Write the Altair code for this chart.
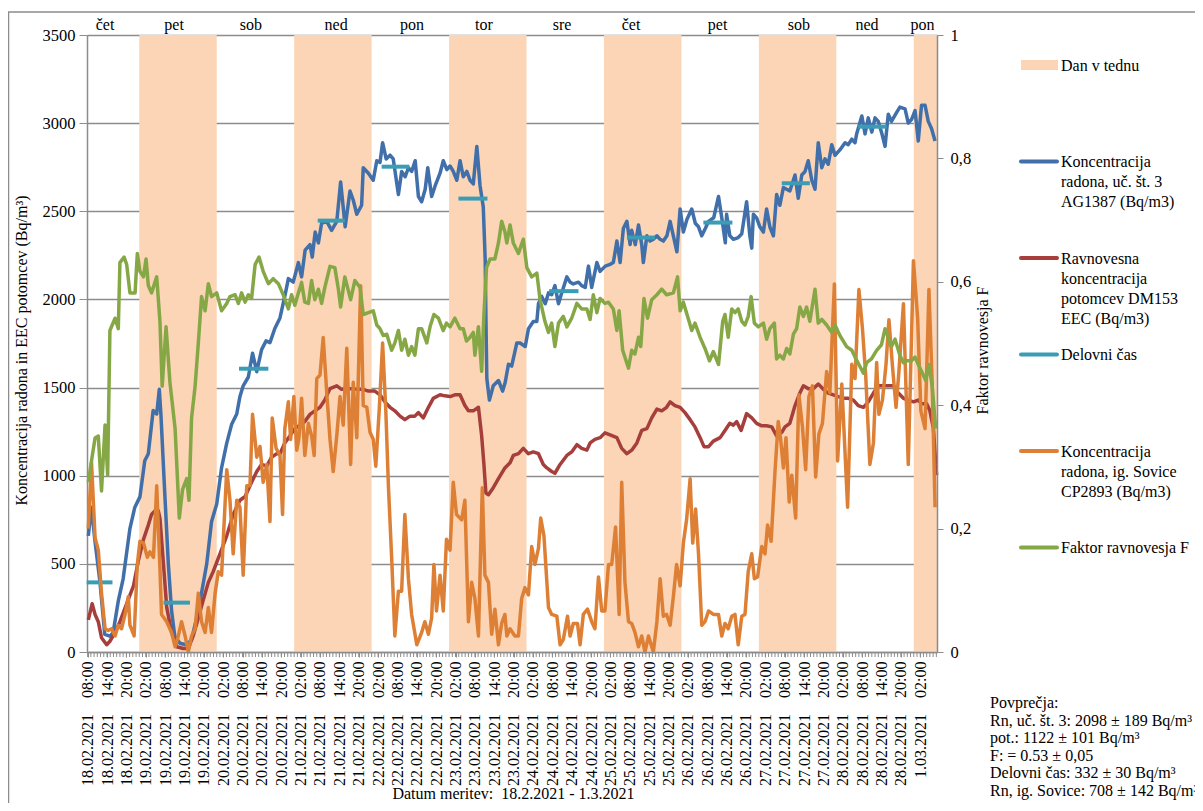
import altair as alt
import pandas as pd

FONT = "Liberation Serif"
BASE = pd.Timestamp("2021-02-18 00:00")


def ts(hours):
    return [(BASE + pd.Timedelta(hours=float(h))).strftime("%Y-%m-%dT%H:%M:%S") for h in hours]


# ---------------- data (hours since 18.02.2021 00:00) ----------------
BLUE_H = [8.2, 9.2, 10.2, 11.8, 13.3, 14.9, 15.9, 17.5, 19.0, 21.1, 22.6, 24.2, 25.7, 26.8, 28.3, 29.4, 30.2, 30.7,
          31.9, 33.0, 34.0, 35.0, 36.6, 38.7, 40.2, 41.8, 43.3, 44.9, 46.4, 48.0, 49.5, 51.1, 52.6, 54.2, 55.2, 56.2,
          57.8, 59.1, 60.4, 61.9, 63.3, 64.5, 66.0, 67.6,
          69.2, 70.2, 71.7, 73.3, 74.3, 75.4, 76.9, 77.6, 78.5, 79.5, 80.5, 82.1, 83.6, 85.2, 86.4, 87.8, 89.3, 90.3,
          91.4, 92.9, 93.4, 95.0, 96.5, 97.6, 98.6, 99.4, 100.5, 101.7, 102.7, 104.3, 105.3, 106.4, 107.4, 108.4,
          109.5, 110.5, 111.5, 112.6, 113.4, 114.6, 115.7, 117.2, 118.2, 119.3, 120.3, 121.3, 122.4, 123.4, 124.4,
          125.5, 126.5, 127.5, 128.6, 129.6, 130.6, 131.2, 131.4, 131.7, 132.5, 133.7, 135.3, 136.6, 137.4,
          138.4, 139.4, 141.0, 142.0, 143.6, 144.6, 146.1, 147.2, 147.7, 148.7, 149.8, 150.8, 151.8, 152.8, 153.9,
          154.9, 156.5, 157.5, 158.5, 160.1, 161.1, 162.2, 163.2, 164.2, 165.8, 166.8, 168.4, 169.9, 170.9, 172.0,
          173.0, 174.0, 175.1, 176.1, 176.6, 177.7, 178.7, 179.7, 180.2, 181.3, 182.3, 183.3, 184.4, 185.4, 186.4,
          187.5, 188.5, 189.5, 190.6, 191.6, 192.6, 193.7, 195.2, 196.3, 197.3, 198.3, 199.4, 200.4, 202.0, 203.5,
          204.5, 205.6,
          206.0, 207.0, 208.1, 209.6, 210.7, 212.2, 213.2, 213.8, 214.3, 215.3, 216.3, 217.4, 218.4, 219.4, 220.5,
          221.5, 222.5, 223.6, 224.6, 225.6, 227.2, 228.2, 229.3, 230.3, 231.3, 232.4, 233.4, 234.4, 235.5, 236.5,
          237.5, 238.6, 239.6, 241.1, 242.7, 243.7, 244.8, 245.8, 246.3, 247.9, 248.9, 249.9, 251.0, 252.0, 253.0,
          254.0, 255.1, 256.1, 257.1, 258.7, 259.7, 261.3, 262.3, 263.3, 264.4, 265.4, 266.4, 267.5, 268.5, 269.5,
          270.6]
BLUE_V = [659, 821, 640, 400, 100, 90, 110, 290, 415, 700, 820, 880, 1085, 1125, 1370, 1350, 1490, 1350,
          900, 500, 235, 90, 50, 40, 70, 195, 335, 500, 740, 840, 1045, 1185, 1290, 1350, 1450, 1510,
          1560, 1695, 1590, 1715, 1765, 1755, 1835, 1895,
          2027, 2118, 2098, 2209, 2128, 2280, 2311, 2240, 2382, 2321, 2432, 2443, 2392, 2443, 2666, 2412, 2615, 2564,
          2483, 2534, 2747, 2716, 2676, 2787, 2777, 2889, 2797, 2818, 2797, 2595, 2726, 2696, 2747, 2726,
          2787, 2584, 2554, 2625, 2747, 2584, 2645, 2716, 2787, 2736, 2757, 2726, 2676, 2787, 2696,
          2726, 2676, 2655, 2868, 2645, 2524, 2220, 1915, 1551, 1429, 1510, 1540, 1480, 1530,
          1632, 1622, 1753, 1753, 1733, 1834, 1875, 1875, 1976, 2017, 1976, 2037, 2027, 2078, 1976,
          2037, 2128, 2098, 2088, 2098, 2078, 2068, 2189, 2068, 2209, 2159, 2189, 2199, 2209, 2331,
          2209, 2402, 2443, 2311, 2392, 2311, 2422, 2311, 2209, 2361, 2331, 2341, 2361, 2341, 2331,
          2361, 2443, 2361, 2270, 2513, 2382, 2453, 2513, 2432, 2412, 2361, 2402, 2443, 2463, 2584,
          2463, 2321,
          2483, 2361, 2341, 2351, 2372, 2554, 2361, 2291, 2483, 2463, 2412, 2382, 2513, 2412, 2361,
          2595, 2534, 2635, 2625, 2615, 2706, 2574, 2706, 2726, 2787, 2676, 2625, 2889, 2747, 2797,
          2767, 2878, 2818, 2848, 2889, 2878, 2909, 2889, 2939, 3041, 2939, 3030, 2949, 3030, 3010,
          2949, 2868, 3051, 3010, 3061, 3091, 3081, 3000, 3020, 3071, 2899, 3101, 3101, 3010, 2970,
          2899]

RED_H = [8.2, 9.4, 10.3, 11.3, 12.3, 13.9, 14.9, 16.5, 18.0, 20.1, 22.2, 23.7, 25.3, 26.8, 27.8, 28.9, 29.9, 30.4,
         31.5, 32.5, 34.0, 35.6, 37.6, 39.2, 40.7, 42.3, 43.8, 45.4, 46.9, 49.0, 51.1, 53.1, 55.2, 56.8, 58.8, 60.4,
         61.9, 63.5, 65.0, 66.6,
         67.6, 69.1, 70.7, 72.2, 73.8, 75.3, 76.9, 78.4, 80.0, 81.5, 83.1, 85.2, 86.7, 88.3, 89.8, 91.4, 93.4, 95.0,
         97.0, 98.6, 100.1, 101.7, 103.2, 104.8, 106.3, 107.9, 109.4, 110.5, 112.0, 113.6, 115.1, 117.2, 118.7,
         120.3, 121.8, 123.4, 124.9, 126.0, 127.5, 129.1, 130.1, 130.8, 131.4, 132.2, 133.7, 135.3,
         137.3, 138.9, 139.9, 141.5, 143.0, 144.6, 146.1, 147.7, 149.2, 150.3, 151.8, 152.8, 154.4, 156.5, 158.0,
         159.6, 161.1, 162.7, 163.7, 165.2, 166.8, 168.3, 169.9, 172.0, 173.5, 175.1, 176.6, 178.2, 179.7, 181.3,
         182.8, 184.4, 185.9, 187.4, 188.5, 190.0, 191.6, 193.1, 194.7, 196.2, 197.8, 199.0, 200.4, 201.9, 204.0,
         205.5, 207.0, 208.1, 209.1, 210.5, 212.2, 213.8, 215.3, 216.9, 218.4, 220.0, 221.5, 223.1, 224.1, 225.6,
         227.2, 228.7, 229.8, 231.3, 232.9, 234.4, 236.0, 237.5, 239.1, 240.6, 242.2, 243.7, 245.3, 246.8, 248.4,
         249.9, 251.5, 253.0, 254.6, 256.1, 257.7, 259.2, 260.8, 262.3, 263.9, 265.4, 266.4, 268.0, 269.0, 270.1,
         270.8, 271.1]
RED_V = [182, 274, 213, 172, 81, 41, 61, 111, 172, 274, 375, 517, 639, 720, 780, 801, 801, 760,
         497, 253, 111, 30, 20, 20, 91, 193, 294, 395, 456, 557, 659, 780, 861, 882, 963, 1024,
         1064, 1054, 1105, 1125,
         1125, 1186, 1226, 1267, 1287, 1307, 1348, 1368, 1388, 1429, 1494, 1510, 1490, 1494, 1494, 1490, 1490, 1480,
         1480, 1459, 1419, 1388, 1368, 1338, 1318, 1338, 1338, 1358, 1328, 1388, 1439, 1459, 1453,
         1449, 1459, 1459, 1398, 1368, 1368, 1388, 1226, 1064, 902, 892, 932, 983,
         1044, 1074, 1115, 1125, 1155, 1125, 1135, 1125, 1064, 1044, 1024, 1014, 1064, 1115, 1135,
         1176, 1155, 1145, 1186, 1206, 1216, 1243, 1231, 1216, 1155, 1125, 1145, 1186, 1257, 1267,
         1328, 1378, 1368, 1388, 1419, 1398, 1388, 1358, 1318, 1277, 1216, 1165, 1165, 1196, 1216,
         1257, 1297, 1287, 1307, 1257, 1352, 1328, 1297, 1283, 1283, 1277, 1226, 1246, 1277, 1297,
         1398, 1469, 1510, 1494, 1494, 1520, 1490, 1469, 1459, 1449, 1439, 1439, 1429, 1398, 1388,
         1419, 1469, 1510, 1510, 1510, 1510, 1469, 1439, 1429, 1419, 1429, 1408, 1408, 1368, 1267,
         1064, 1003]

ORANGE_H = [8.2, 9.2, 10.3, 11.3, 12.3, 13.4, 14.4, 15.4, 16.5, 17.5, 18.5, 19.6, 20.6, 21.1, 22.4, 23.4, 24.2,
            25.3, 26.5, 27.3, 28.4, 29.4, 30.4, 30.9, 32.5, 34.0, 35.1, 36.1, 37.1, 38.2, 39.2, 40.2, 41.3, 42.3,
            43.3, 44.4, 45.4, 46.4, 47.5, 48.5, 49.5, 51.1, 52.1, 53.1, 54.2, 55.2, 56.2, 57.3, 58.3, 59.1, 60.4,
            61.4, 62.4, 63.5, 64.5, 65.2, 66.4, 67.6,
            68.4, 69.1, 70.2, 70.9, 71.9, 72.8, 73.5, 74.3, 75.3, 76.4, 77.4, 78.2, 79.0, 80.0, 81.0, 82.1, 83.1,
            84.1, 85.2, 86.2, 87.2, 88.3, 89.5, 90.3, 91.4, 92.6, 93.4, 94.5, 95.5, 96.5, 97.3, 98.4, 99.4, 100.4,
            101.2, 102.2, 103.2, 104.3, 105.3, 106.3, 107.4, 108.4, 110.0, 111.5, 112.5, 113.6, 114.6, 115.3,
            116.1, 117.2, 118.2, 119.2, 120.3, 121.3, 122.3, 123.9, 124.9, 126.0, 127.0, 128.0, 129.1, 130.3,
            131.1, 132.2, 133.2, 134.2, 135.3, 136.3, 137.3,
            137.9, 138.9, 140.4, 141.5, 142.5, 143.5, 144.6, 145.6, 146.6, 147.7, 148.4, 149.4, 150.8, 151.8,
            153.4, 154.4, 155.4, 156.7, 157.5, 158.5, 159.8, 160.6, 161.6, 162.9, 164.2, 165.2, 166.3, 167.3,
            168.3, 169.4, 170.4, 171.6, 172.7, 173.5, 174.5, 175.6, 176.6, 177.6, 178.7, 179.7, 180.7, 181.8,
            183.3, 184.4, 185.4, 186.4, 187.4, 188.5, 189.5, 190.5, 191.6, 192.6, 193.6, 194.7, 195.5, 196.4,
            197.3, 198.3, 199.3, 200.4, 201.9, 203.5, 204.5,
            205.5, 206.5, 207.6, 208.6, 209.6, 210.7, 211.7, 212.7, 213.8, 214.6, 215.6, 216.9, 217.9, 218.7,
            219.8, 221.0, 222.0, 222.7, 223.6, 224.4, 225.4, 226.2, 227.4, 228.4, 229.5, 230.5, 231.5, 232.6,
            233.6, 234.6, 235.7, 237.0, 238.0, 239.4, 240.4, 241.7, 243.5, 244.8, 245.8, 247.0, 248.1, 249.1,
            250.4, 251.5, 252.5, 253.2, 254.3, 255.4, 256.3, 257.4, 258.5, 259.4, 260.8, 262.3, 263.9, 265.2,
            266.2, 267.5, 268.7, 269.7, 270.6]
ORANGE_V = [700, 1074, 649, 578, 334, 132, 122, 132, 91, 152, 132, 213, 314, 152, 91, 497, 628,
            618, 537, 568, 537, 943, 476, 213, 172, 111, 30, 91, 172, 91, 0, 91, 132, 334,
            172, 111, 253, 111, 334, 456, 436, 1034, 861, 557, 861, 821, 436, 943, 943, 1348, 1105,
            1166, 963, 1064, 740, 1328, 1155, 1115,
            780, 1267, 1419, 1206, 1449, 1145, 1216, 1439, 1115, 1297, 1226, 1115, 1551, 1571, 1784, 1470, 1206,
            1024, 1226, 1449, 1287, 1723, 1064, 1530, 1216, 2078, 1399, 1388, 1247, 1206, 1054, 1388, 1753, 1368,
            943, 537, 91, 345, 345, 780, 416, 213, 41, 111, 172, 101, 193, 497,
            233, 436, 233, 639, 578, 963, 780, 750, 861, 172, 395, 304, 91, 932,
            436, 395, 101, 243, 41, 162, 213,
            91, 132, 91, 91, 304, 365, 324, 598, 497, 588, 760, 659, 253, 213,
            203, 41, 71, 203, 91, 162, 162, 41, 213, 243, 172, 132, 426, 233,
            233, 497, 497, 709, 213, 963, 395, 172, 162, 111, 30, 91, 0, 91,
            0, 172, 416, 203, 213, 152, 314, 497, 375, 618, 750, 983, 618, 811,
            557, 152, 172, 233, 213, 213, 91,
            162, 132, 203, 213, 41, 203, 213, 456, 557, 416, 426, 598, 557, 720,
            628, 1024, 1307, 1216, 1044, 1216, 851, 1003, 760, 1459, 1277, 1034, 1449, 1510,
            993, 1236, 1297, 1591, 1470, 2088, 1084, 1520, 821, 1632, 1551, 2057, 1834, 1571,
            1064, 1186, 1642, 1348, 1429, 1632, 1885, 1622, 1388, 1591, 1976, 1064, 2220, 1895,
            1368, 1267, 2057, 1530, 821]

GREEN_H = [8.2, 9.2, 10.3, 11.3, 12.3, 13.4, 14.2, 14.9, 16.5, 17.5, 18.0, 19.3, 20.1, 21.1, 22.7, 23.4, 24.2,
           25.3, 26.1, 26.8, 27.8, 29.4, 30.4, 31.1, 32.3, 33.5, 35.1, 36.4, 37.4, 38.7, 39.4, 40.2, 41.3, 42.3,
           43.3, 44.4, 45.4, 46.4, 48.0, 49.5, 51.1, 52.1, 53.7, 54.7, 55.7, 56.8, 57.8, 58.8, 59.9, 61.1, 62.4,
           64.0, 65.5, 67.1,
           68.6, 70.2, 71.2, 72.2, 73.3, 74.3, 75.3, 76.4, 77.4, 78.4, 79.5, 80.5, 81.5, 83.1, 84.6, 85.7, 86.4,
           87.7, 89.5, 90.8, 92.4, 93.4, 95.0, 96.5, 97.6, 98.6, 99.6, 100.7, 102.2, 103.2, 104.3, 105.3, 106.3,
           107.4, 108.4, 109.4, 110.5, 111.5, 113.1, 114.1, 115.3, 116.7, 118.2, 119.2, 120.3, 121.8, 123.4,
           124.4, 125.4, 126.5, 127.5, 128.0, 129.1, 130.1, 130.8, 131.6, 132.7, 134.2, 135.3, 136.3, 137.3,
           137.9, 138.9, 139.9, 141.5, 143.0, 144.1, 145.6, 147.2, 148.2, 149.7, 150.8, 151.8, 152.8, 153.9,
           155.4, 156.5, 158.0, 159.6, 161.1, 162.7, 163.7, 164.7, 165.8, 166.8, 168.3, 169.4, 170.9, 172.0,
           172.7, 173.8, 175.6, 176.6, 177.6, 178.7, 179.4, 180.4, 181.5, 182.8, 184.4, 185.9, 187.4, 189.5,
           190.8, 191.6, 192.6, 194.2, 195.2, 196.2, 197.8, 199.3, 200.7, 201.9, 203.5, 204.8, 205.5,
           206.5, 207.6, 208.6, 209.6, 210.7, 211.7, 212.7, 213.6, 214.6, 215.8, 217.4, 218.4, 219.4, 220.8,
           221.5, 222.5, 223.6, 224.6, 225.6, 226.7, 227.7, 228.7, 229.8, 230.8, 231.8, 233.4, 234.4, 235.5,
           237.0, 238.6, 239.6, 241.1, 243.2, 244.8, 245.8, 247.0, 248.4, 249.4, 250.9, 252.5, 254.0, 255.1,
           256.1, 257.1, 258.2, 259.7, 260.8, 261.8, 263.3, 264.4, 265.4, 266.4, 267.7, 268.7, 269.7, 270.8]
GREEN_F = [0.275, 0.310, 0.347, 0.350, 0.261, 0.368, 0.287, 0.521, 0.541, 0.524, 0.631, 0.640, 0.628, 0.582,
           0.582, 0.646, 0.617, 0.608, 0.637, 0.594, 0.582, 0.608, 0.536, 0.431, 0.527, 0.437, 0.362, 0.217,
           0.263, 0.281, 0.246, 0.379, 0.431, 0.501, 0.576, 0.553, 0.597, 0.576, 0.582, 0.553, 0.565, 0.576,
           0.579, 0.565, 0.582, 0.567, 0.579, 0.573, 0.628, 0.640, 0.617, 0.597, 0.605, 0.597,
           0.579, 0.556, 0.579, 0.562, 0.582, 0.599, 0.567, 0.565, 0.602, 0.571, 0.588, 0.565, 0.591, 0.625,
           0.623, 0.588, 0.559, 0.608, 0.571, 0.602, 0.591, 0.547, 0.550, 0.553, 0.530, 0.524, 0.513, 0.515,
           0.489, 0.501, 0.521, 0.489, 0.507, 0.481, 0.495, 0.481, 0.524, 0.524, 0.501, 0.527, 0.547, 0.541,
           0.521, 0.533, 0.527, 0.541, 0.524, 0.524, 0.504, 0.510, 0.518, 0.481, 0.527, 0.455, 0.547, 0.623,
           0.637, 0.637, 0.663, 0.698, 0.681,
           0.663, 0.692, 0.663, 0.646, 0.669, 0.623, 0.608, 0.614, 0.571, 0.536, 0.518, 0.533, 0.495, 0.533,
           0.544, 0.527, 0.541, 0.565, 0.556, 0.556, 0.539, 0.579, 0.550, 0.573, 0.565, 0.567, 0.556, 0.521,
           0.553, 0.489, 0.460, 0.489, 0.483, 0.510, 0.495, 0.573, 0.541, 0.571, 0.579, 0.588, 0.579, 0.582,
           0.608, 0.553, 0.567, 0.539, 0.521, 0.533, 0.510, 0.492, 0.472, 0.487, 0.466, 0.536, 0.547,
           0.510, 0.556, 0.550, 0.556, 0.536, 0.530, 0.544, 0.576, 0.533, 0.527, 0.533, 0.507, 0.524, 0.533,
           0.475, 0.481, 0.475, 0.492, 0.483, 0.515, 0.524, 0.559, 0.544, 0.559, 0.536, 0.588, 0.533, 0.539,
           0.530, 0.518, 0.530, 0.513, 0.495, 0.489, 0.478, 0.466, 0.452, 0.469, 0.475, 0.489, 0.498, 0.524,
           0.510, 0.495, 0.507, 0.481, 0.469, 0.472, 0.472, 0.478, 0.466, 0.455, 0.440, 0.466, 0.431, 0.362]

WORK_START_H = [7.7, 31.5, 54.9, 79.3, 99.1, 122.9, 151.0, 175.1, 198.8, 223.1, 246.8]
WORK_END_H = [15.7, 39.7, 64.0, 87.7, 107.7, 131.9, 160.1, 183.8, 207.8, 231.8, 255.6]
WORK_V = [395, 280, 1607, 2447, 2753, 2572, 2047, 2351, 2436, 2659, 2980]

DAY_NAMES = ["čet", "pet", "sob", "ned", "pon", "tor", "sre", "čet", "pet", "sob", "ned", "pon"]
DAY_LABEL_H = [13.4, 34.8, 58.6, 85.0, 108.5, 130.8, 155.0, 176.4, 203.2, 228.4, 249.5, 266.7]
SHADED_START_H = [24, 72, 120, 168, 216, 264]
SHADED_END_H = [48, 96, 144, 192, 240, 288]

TICK_H = list(range(8, 267, 6))
MINOR_H = list(range(8, 272))

LEGEND_LABELS = [["Dan v tednu"],
                 ["Koncentracija", "radona, uč. št. 3", "AG1387 (Bq/m3)"],
                 ["Ravnovesna", "koncentracija", "potomcev DM153", "EEC (Bq/m3)"],
                 ["Delovni čas"],
                 ["Koncentracija", "radona, ig. Sovice", "CP2893 (Bq/m3)"],
                 ["Faktor ravnovesja F"]]
STATS_LINES = ["Povprečja:",
               "Rn, uč. št. 3: 2098 ± 189 Bq/m³",
               "pot.: 1122 ± 101 Bq/m³",
               "F: = 0.53 ± 0,05",
               "Delovni čas: 332 ± 30 Bq/m³",
               "Rn, ig. Sovice: 708 ± 142 Bq/m³"]

# ---------------- styles ----------------
C_BLUE = "#406FAA"
C_RED = "#A63E3B"
C_TEAL = "#3A9DB5"
C_ORANGE = "#DD8035"
C_GREEN = "#86A746"
C_BAND = "#FBD5B5"
C_GRID = "#8C8C8C"
LW = 3.5
W, H = 850, 617


def dt(h):
    t = BASE + pd.Timedelta(hours=float(h))
    return alt.DateTime(year=t.year, month=t.month, date=t.day, hours=t.hour, minutes=t.minute)


xscale = alt.Scale(domain=[dt(7.8), dt(271.2)])
xaxis = alt.Axis(values=[dt(h) for h in TICK_H], format="%-d.%m.%Y\u00a0\u00a0\u00a0\u00a0%H:%M",
                 formatType="time", labelAngle=270, labelFont=FONT, labelFontSize=16, labelColor="#000000",
                 labelOverlap=False, labelFlush=False, labelPadding=4, tickSize=5, tickColor=C_GRID,
                 domainColor=C_GRID, domainWidth=1.5, grid=False, zindex=1,
                 title="Datum meritev:\u00a0\u00a018.2.2021 - 1.3.2021", titleFont=FONT, titleFontSize=16,
                 titleFontWeight="normal", titleColor="#000000", titleX=426, titleY=146,
                 titleBaseline="alphabetic", titleAlign="center")


def X(field):
    return alt.X(field, type="temporal", scale=xscale, axis=xaxis)


yaxis_left = alt.Axis(values=list(range(0, 3501, 500)), format="d", grid=True, gridColor=C_GRID, gridWidth=1.3,
                      domainColor=C_GRID, domainWidth=1.5, tickColor=C_GRID, tickSize=8, labelPadding=4,
                      labelFont=FONT, labelFontSize=16.5, labelColor="#000000",
                      title="Koncentracija radona in EEC potomcev (Bq/m³)", titleFont=FONT, titleFontSize=16,
                      titleFontWeight="normal", titleColor="#000000", titleAngle=270, titleX=-66, titleY=315,
                      titleAlign="center", titleBaseline="middle")
yscale_left = alt.Scale(domain=[0, 3500], nice=False)


def Y(field):
    return alt.Y(field, type="quantitative", scale=yscale_left, axis=yaxis_left)


def series_df(hours, values, name="v"):
    return pd.DataFrame({"t": ts(hours), name: values})


blue = alt.Chart(series_df(BLUE_H, BLUE_V)).mark_line(color=C_BLUE, strokeWidth=LW, strokeJoin="round").encode(
    x=X("t"), y=Y("v"))
red = alt.Chart(series_df(RED_H, RED_V)).mark_line(color=C_RED, strokeWidth=LW, strokeJoin="round").encode(
    x=X("t"), y=Y("v"))
work_df = pd.DataFrame({"s": ts(WORK_START_H), "e": ts(WORK_END_H), "v": WORK_V})
work = alt.Chart(work_df).mark_rule(color=C_TEAL, strokeWidth=4).encode(x=X("s"), x2="e", y=Y("v"))
orange = alt.Chart(series_df(ORANGE_H, ORANGE_V)).mark_line(color=C_ORANGE, strokeWidth=LW,
                                                            strokeJoin="round").encode(x=X("t"), y=Y("v"))
left_group = alt.layer(blue, red, work, orange)

green = alt.Chart(series_df(GREEN_H, GREEN_F, "F")).mark_line(color=C_GREEN, strokeWidth=LW,
                                                             strokeJoin="round").encode(
    x=X("t"),
    y=alt.Y("F:Q", scale=alt.Scale(domain=[0, 1], nice=False),
            axis=alt.Axis(orient="right", values=[0, 0.2, 0.4, 0.6, 0.8, 1],
                          labelExpr="replace(format(datum.value, '.1~f'), '.', ',')",
                          grid=False, domainColor=C_GRID, domainWidth=1.5, tickColor=C_GRID, tickSize=6,
                          labelPadding=7, labelFont=FONT, labelFontSize=16.5, labelColor="#000000", zindex=1,
                          title="Faktor ravnovesja F", titleFont=FONT, titleFontSize=16,
                          titleFontWeight="normal", titleColor="#000000", titleAngle=270, titleX=45,
                          titleY=315, titleAlign="center", titleBaseline="middle")))

bands_df = pd.DataFrame({"s": ts(SHADED_START_H), "e": ts(SHADED_END_H)})
bands = alt.Chart(bands_df).mark_rect(color=C_BAND, opacity=1, clip=True).encode(x=X("s"), x2="e")

days_df = pd.DataFrame({"t": ts(DAY_LABEL_H), "name": DAY_NAMES})
days = alt.Chart(days_df).mark_text(font=FONT, fontSize=16, color="#000000", baseline="middle",
                                    align="center").encode(x=X("t"), y=alt.value(-10), text="name")

minor = alt.Chart(pd.DataFrame({"t": ts(MINOR_H)})).mark_rule(color=C_GRID, strokeWidth=1).encode(
    x=X("t"), y=alt.value(H), y2=alt.value(H + 5))

one = pd.DataFrame({"a": [0]})
border = alt.Chart(one).mark_rect(fillOpacity=0, stroke=C_GRID, strokeWidth=1.5).encode(
    x=alt.value(-78.5), x2=alt.value(1125), y=alt.value(-23), y2=alt.value(785))

legend_layers = []
legend_colors = [C_BAND, C_BLUE, C_RED, C_TEAL, C_ORANGE, C_GREEN]
for i, (lines, col) in enumerate(zip(LEGEND_LABELS, legend_colors)):
    yc = 30 + i * 96.5
    if i == 0:
        sw = alt.Chart(one).mark_rect(color=col).encode(
            x=alt.value(934), x2=alt.value(971), y=alt.value(yc - 5), y2=alt.value(yc + 5))
    else:
        sw = alt.Chart(one).mark_rule(color=col, strokeWidth=4, strokeCap="round").encode(
            x=alt.value(934), x2=alt.value(970), y=alt.value(yc))
    tx = alt.Chart(one).mark_text(font=FONT, fontSize=16, color="#000000", align="left",
                                  baseline="alphabetic", lineHeight=20).encode(
        x=alt.value(974), y=alt.value(yc + 5.5), text=alt.value(lines))
    legend_layers += [sw, tx]

stats = alt.Chart(one).mark_text(font=FONT, fontSize=16, color="#000000", align="left",
                                 baseline="alphabetic", lineHeight=17.6).encode(
    x=alt.value(903), y=alt.value(673), text=alt.value(STATS_LINES))

chart = alt.layer(border, bands, left_group, green, days, minor, *legend_layers, stats).resolve_scale(
    y="independent").properties(
    width=W, height=H,
    padding={"left": 79, "top": 27, "right": 258, "bottom": 151},
    autosize=alt.AutoSizeParams(type="none"),
).configure_view(strokeWidth=0).configure(background="white", font=FONT).configure_axis(
    labelFont=FONT, titleFont=FONT).configure_text(font=FONT)

chart.save("out.html", embed_options={"renderer": "svg", "actions": False})
